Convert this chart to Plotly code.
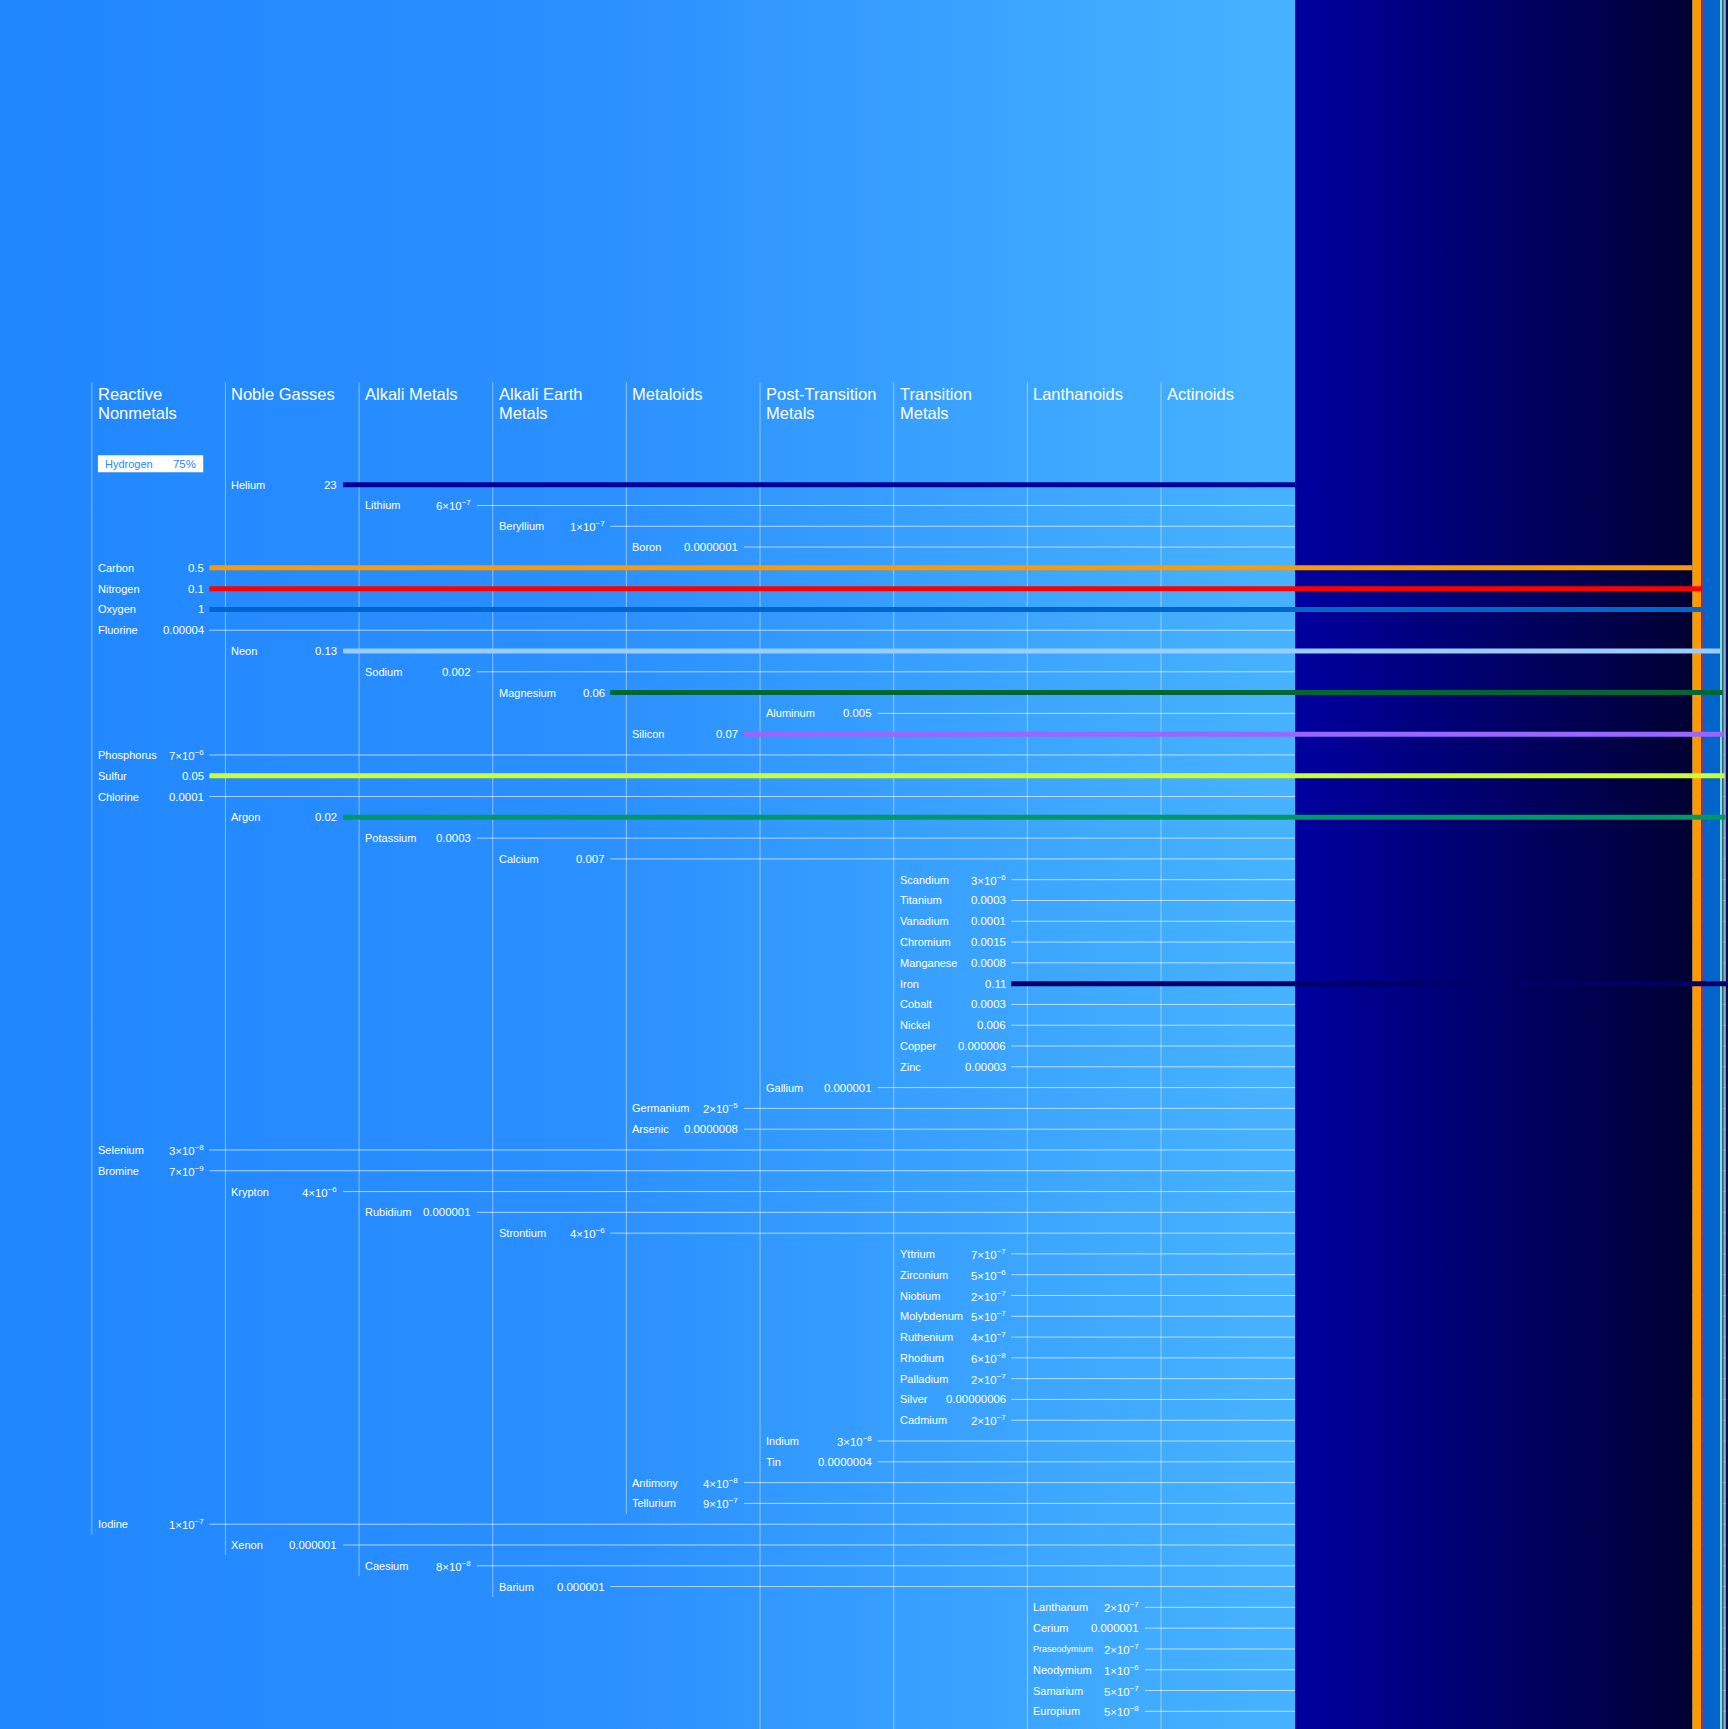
import plotly.graph_objects as go

# ---------------- data ----------------
categories = ["Reactive\nNonmetals", "Noble Gasses", "Alkali Metals", "Alkali Earth\nMetals",
              "Metaloids", "Post-Transition\nMetals", "Transition\nMetals", "Lanthanoids", "Actinoids"]
# the picture is cropped at the bottom: these groups continue below the visible part
column_continues_below = [False, False, False, False, False, True, True, True, True]

elements = ["Hydrogen", "Helium", "Lithium", "Beryllium", "Boron", "Carbon", "Nitrogen", "Oxygen",
            "Fluorine", "Neon", "Sodium", "Magnesium", "Aluminum", "Silicon", "Phosphorus", "Sulfur",
            "Chlorine", "Argon", "Potassium", "Calcium", "Scandium", "Titanium", "Vanadium", "Chromium",
            "Manganese", "Iron", "Cobalt", "Nickel", "Copper", "Zinc", "Gallium", "Germanium", "Arsenic",
            "Selenium", "Bromine", "Krypton", "Rubidium", "Strontium", "Yttrium", "Zirconium", "Niobium",
            "Molybdenum", "Ruthenium", "Rhodium", "Palladium", "Silver", "Cadmium", "Indium", "Tin",
            "Antimony", "Tellurium", "Iodine", "Xenon", "Caesium", "Barium", "Lanthanum", "Cerium",
            "Praseodymium", "Neodymium", "Samarium", "Europium"]

element_category = [0, 1, 2, 3, 4, 0, 0, 0,
                    0, 1, 2, 3, 5, 4, 0, 0,
                    0, 1, 2, 3, 6, 6, 6, 6,
                    6, 6, 6, 6, 6, 6, 5, 4, 4,
                    0, 0, 1, 2, 3, 6, 6, 6,
                    6, 6, 6, 6, 6, 6, 5, 5,
                    4, 4, 0, 1, 2, 3, 7, 7,
                    7, 7, 7, 7]

abundance = [75, 23, 6e-7, 1e-7, 1e-7, 0.5, 0.1, 1,
             4e-5, 0.13, 0.002, 0.06, 0.005, 0.07, 7e-6, 0.05,
             1e-4, 0.02, 3e-4, 0.007, 3e-6, 3e-4, 1e-4, 0.0015,
             8e-4, 0.11, 3e-4, 0.006, 6e-6, 3e-5, 1e-6, 2e-5, 8e-7,
             3e-8, 7e-9, 4e-6, 1e-6, 4e-6, 7e-7, 5e-6, 2e-7,
             5e-7, 4e-7, 6e-8, 2e-7, 6e-8, 2e-7, 3e-8, 4e-7,
             4e-8, 9e-7, 1e-7, 1e-6, 8e-8, 1e-6, 2e-7, 1e-6,
             2e-7, 1e-6, 5e-7, 5e-8]

abundance_label = ["75%", "23", "6×10<sup>−7</sup>", "1×10<sup>−7</sup>", "0.0000001", "0.5", "0.1", "1",
                   "0.00004", "0.13", "0.002", "0.06", "0.005", "0.07", "7×10<sup>−6</sup>", "0.05",
                   "0.0001", "0.02", "0.0003", "0.007", "3×10<sup>−6</sup>", "0.0003", "0.0001", "0.0015",
                   "0.0008", "0.11", "0.0003", "0.006", "0.000006", "0.00003", "0.000001",
                   "2×10<sup>−5</sup>", "0.0000008",
                   "3×10<sup>−8</sup>", "7×10<sup>−9</sup>", "4×10<sup>−6</sup>", "0.000001",
                   "4×10<sup>−6</sup>", "7×10<sup>−7</sup>", "5×10<sup>−6</sup>", "2×10<sup>−7</sup>",
                   "5×10<sup>−7</sup>", "4×10<sup>−7</sup>", "6×10<sup>−8</sup>", "2×10<sup>−7</sup>",
                   "0.00000006", "2×10<sup>−7</sup>", "3×10<sup>−8</sup>", "0.0000004",
                   "4×10<sup>−8</sup>", "9×10<sup>−7</sup>", "1×10<sup>−7</sup>", "0.000001",
                   "8×10<sup>−8</sup>", "0.000001", "2×10<sup>−7</sup>", "0.000001",
                   "2×10<sup>−7</sup>", "1×10<sup>−6</sup>", "5×10<sup>−7</sup>", "5×10<sup>−8</sup>"]

highlight_colors = {"Helium": "#000096", "Carbon": "#FF9900", "Nitrogen": "#FF0000", "Oxygen": "#0066CC",
                    "Neon": "#99CCFF", "Magnesium": "#006633", "Silicon": "#9966FF", "Sulfur": "#CCFF33",
                    "Argon": "#009966", "Iron": "#000066"}

# ---------------- layout constants ----------------
FIG_W, FIG_H = 1728, 1729
ROW0_PX, ROW_PX = 463.9, 20.79
COL0_PX, COL_STEP = 91.8, 133.65
FONT = "Liberation Sans, Arial, sans-serif"
WHITE = "#FFFFFF"
THIN = "rgba(255,255,255,0.62)"
VLINE = "rgba(255,255,255,0.45)"

total = sum(abundance)


def px_to_row(p):
    return (p - ROW0_PX) / ROW_PX


def px_to_x(p):
    return p / FIG_W * total


y_top = px_to_row(0)
y_bot = px_to_row(FIG_H)

starts = []
acc = 0.0
for v in abundance:
    starts.append(acc)
    acc += v

fig = go.Figure()


def add_strip(i, fill):
    x0, x1 = starts[i], starts[i] + abundance[i]
    kw = dict(x=[x0, x1, x1, x0, x0], y=[y_top - 1, y_top - 1, y_bot + 1, y_bot + 1, y_top - 1],
              mode="lines", fill="toself", line=dict(width=0), hoverinfo="skip", showlegend=False)
    if isinstance(fill, list):
        kw["fillgradient"] = dict(type="horizontal", colorscale=fill)
        kw["fillcolor"] = fill[0][1]
    else:
        kw["fillcolor"] = fill
    fig.add_trace(go.Scatter(**kw))


# hydrogen strip = background of the table
add_strip(0, [[0, "#2187FF"], [0.45, "#2A8FFF"], [1, "#47B3FF"]])

# column separators
for k, cat in enumerate(categories):
    rows = [i for i, c in enumerate(element_category) if c == k]
    cx = px_to_x(COL0_PX + k * COL_STEP)
    top = px_to_row(382.3)
    if column_continues_below[k] or not rows:
        bottom = y_bot + 1
    else:
        bottom = max(rows) + 0.5
    fig.add_trace(go.Scatter(x=[cx, cx], y=[top, bottom], mode="lines",
                             line=dict(color=VLINE, width=1), hoverinfo="skip", showlegend=False))

# thin leader lines (minor elements)
tx, ty = [], []
for i, name in enumerate(elements):
    if i == 0 or name in highlight_colors:
        continue
    k = element_category[i]
    tx += [px_to_x(COL0_PX + k * COL_STEP + 117.6), starts[i], None]
    ty += [i, i, None]
fig.add_trace(go.Scatter(x=tx, y=ty, mode="lines", line=dict(color=THIN, width=1),
                         hoverinfo="skip", showlegend=False, connectgaps=False))

# remaining strips
for i, name in enumerate(elements):
    if i == 0:
        continue
    if name == "Helium":
        add_strip(i, [[0, "#0000A0"], [1, "#000033"]])
    else:
        add_strip(i, highlight_colors.get(name, "rgba(200,220,255,0.8)"))

# thick leader lines (major elements)
for i, name in enumerate(elements):
    if name not in highlight_colors:
        continue
    k = element_category[i]
    fig.add_trace(go.Scatter(x=[px_to_x(COL0_PX + k * COL_STEP + 117.6), starts[i]], y=[i, i],
                             mode="lines", line=dict(color=highlight_colors[name], width=5),
                             hoverinfo="skip", showlegend=False))

annotations = []
# headers
for k, cat in enumerate(categories):
    for j, line in enumerate(cat.split("\n")):
        annotations.append(dict(x=px_to_x(COL0_PX + k * COL_STEP + 3.8), y=px_to_row(393.5 + 19 * j),
                                text=line, showarrow=False, xanchor="left", yanchor="middle",
                                font=dict(family=FONT, size=16.5, color=WHITE)))

# element labels
for i, name in enumerate(elements):
    k = element_category[i]
    cx = COL0_PX + k * COL_STEP
    if i == 0:
        nx, vx, col = cx + 11.0, cx + 106.5, "#2288FF"
    else:
        nx, vx, col = cx + 3.9, cx + 113.8, WHITE
    fsize = 9 if len(name) > 11 else 11
    annotations.append(dict(x=px_to_x(nx), y=i, text=name, showarrow=False, xanchor="left",
                            yanchor="middle", font=dict(family=FONT, size=fsize, color=col)))
    annotations.append(dict(x=px_to_x(vx), y=i, text=abundance_label[i], showarrow=False,
                            xanchor="right", yanchor="middle", font=dict(family=FONT, size=11.4, color=col)))

# hydrogen highlight box
shapes = [dict(type="rect", xref="x", yref="y", x0=px_to_x(97.9), x1=px_to_x(203.2),
               y0=px_to_row(455.3), y1=px_to_row(472.3), fillcolor=WHITE, line=dict(width=0),
               layer="above")]

fig.update_layout(
    width=FIG_W, height=FIG_H, margin=dict(l=0, r=0, t=0, b=0),
    paper_bgcolor="#2288FF", plot_bgcolor="#2288FF",
    xaxis=dict(range=[0, total], visible=False, fixedrange=True),
    yaxis=dict(range=[y_bot, y_top], visible=False, fixedrange=True),
    annotations=annotations, shapes=shapes, showlegend=False,
)

fig.write_html("out.html")
